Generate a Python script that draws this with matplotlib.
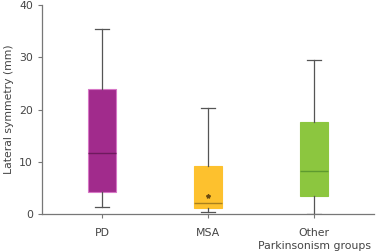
import matplotlib
matplotlib.use("Agg")
import matplotlib.pyplot as plt

categories = ["PD", "MSA", "Other\nParkinsonism groups"]
whisker_low = [1.4, 0.5, 0.0]
q1 = [4.2, 1.2, 3.5]
median = [11.7, 2.25, 8.2]
q3 = [24.0, 9.2, 17.7]
whisker_high = [35.4, 20.3, 29.4]
means = [None, 3.6, None]
yticks = [0, 10, 20, 30, 40]

face_colors = ["#A12B8C", "#FDC12E", "#8CC63F"]
edge_colors = ["#D777C6", "#FDC12E", "#8CC63F"]
median_colors = ["#6E1A5E", "#A8801E", "#5E9A2F"]

plt.rcParams['font.family'] = ['DejaVu Sans']
fig = plt.figure(figsize=(3.79, 2.52), dpi=100)
ax = fig.add_axes([0.111, 0.149, 0.876, 0.832])

stats = []
for i, c in enumerate(categories):
    stats.append(dict(label=c, whislo=whisker_low[i], q1=q1[i], med=median[i],
                      q3=q3[i], whishi=whisker_high[i], fliers=[]))
positions = list(range(len(categories)))
bp = ax.bxp(stats, positions=positions, widths=0.27, patch_artist=True,
            showfliers=False, manage_ticks=False)
for i, box in enumerate(bp['boxes']):
    box.set_facecolor(face_colors[i])
    box.set_edgecolor(edge_colors[i])
    box.set_linewidth(0.8)
for i, med in enumerate(bp['medians']):
    med.set_color(median_colors[i])
    med.set_linewidth(1.0)
for w in bp['whiskers']:
    w.set_color("#555555")
    w.set_linewidth(0.9)
for c in bp['caps']:
    c.set_color("#555555")
    c.set_linewidth(0.9)
    xd = c.get_xdata()
    mid = (xd[0] + xd[1]) / 2
    c.set_xdata([mid - 0.065, mid + 0.065])

for i, m in enumerate(means):
    if m is not None:
        ax.plot(positions[i], m, marker='*', color="#6A4A10", markersize=3)

ax.set_xlim(-0.566, 2.566)
ax.set_ylim(0, 40)
ax.set_yticks(yticks)
ax.set_xticks(positions)
ax.set_xticklabels(categories, fontsize=7.8, color="#444444", linespacing=1.35)
ax.tick_params(axis='y', labelsize=7.8, colors="#444444", length=3, width=0.8, color="#777777")
ax.tick_params(axis='x', length=3, width=0.8, color="#777777", pad=7)
ax.set_ylabel("Lateral symmetry (mm)", fontsize=7.8, color="#444444", labelpad=4)
for s in ['top', 'right']:
    ax.spines[s].set_visible(False)
for s in ['left', 'bottom']:
    ax.spines[s].set_color("#777777")
    ax.spines[s].set_linewidth(0.9)

fig.savefig("out.png", dpi=100)
